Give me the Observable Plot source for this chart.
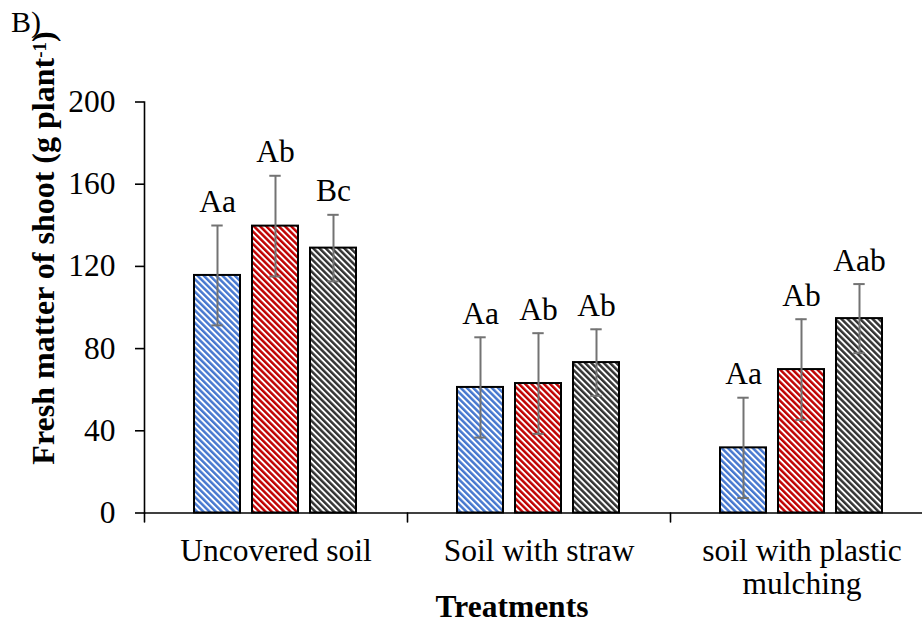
<!DOCTYPE html>
<html>
<head>
<meta charset="utf-8">
<script src="https://cdn.jsdelivr.net/npm/d3@7"></script>
<script src="https://cdn.jsdelivr.net/npm/@observablehq/plot@0.6"></script>
<style>
  html, body { margin: 0; padding: 0; background: #fff; }
  #chart svg { display: block; }
</style>
</head>
<body>
<div id="chart"></div>
<script>
// Treatments (groups along the x axis) and their displayed tick labels
const treatments = ["Uncovered soil", "Soil with straw", "soil with plastic mulching"];
const tickLabels = ["Uncovered soil", "Soil with straw", "soil with plastic\nmulching"];

// Three series drawn side by side within each treatment
const seriesKeys = ["S1", "S2", "S3"];

// Mean fresh matter of shoot (g plant-1), one value per treatment
const meanS1 = [115.6, 61.1, 31.7];
const meanS2 = [139.6, 63.0, 69.8];
const meanS3 = [128.9, 73.2, 94.6];

// Standard deviations (error bars)
const sdS1 = [24.3, 24.4, 24.4];
const sdS2 = [24.5, 24.5, 24.5];
const sdS3 = [16.2, 16.2, 16.8];

// Significance letters
const letterS1 = ["Aa", "Aa", "Aa"];
const letterS2 = ["Ab", "Ab", "Ab"];
const letterS3 = ["Bc", "Ab", "Aab"];

const yTicks = [0, 40, 80, 120, 160, 200];

const means = [meanS1, meanS2, meanS3];
const sds = [sdS1, sdS2, sdS3];
const letters = [letterS1, letterS2, letterS3];

const rows = treatments.flatMap((t, i) =>
  seriesKeys.map((s, j) => ({
    treatment: t,
    series: s,
    mean: means[j][i],
    sd: sds[j][i],
    letter: letters[j][i]
  }))
);

const stripeColors = ["#4677cf", "#c00000", "#333333"];
const patternIds = seriesKeys.map((s) => `stripe-${s}`);

const font = "Liberation Serif";
const labelSize = 31.5;
const errColor = "#737373";

// plain line shape for the category boundary ticks
const lineShape = {
  draw(context, l) {
    context.moveTo(0, 0);
    context.lineTo(0, -l);
  }
};

const chart = Plot.plot({
  width: 922,
  height: 624,
  marginLeft: 143,
  marginRight: 0,
  marginTop: 101.5,
  marginBottom: 111.5,
  style: { fontFamily: font, fontSize: `${labelSize}px`, background: "#fff", color: "#000", overflow: "visible" },
  fx: { domain: treatments, range: [143, 933.5], padding: 0, axis: null, label: null },
  x: { domain: seriesKeys, paddingInner: 0.205, paddingOuter: 0.855, axis: null },
  y: { domain: [0, 200], axis: null },
  color: { type: "ordinal", domain: seriesKeys, range: patternIds.map((id) => `url(#${id})`) },
  marks: [
    Plot.barY(rows, {
      fx: "treatment", x: "series", y: "mean",
      fill: "series", stroke: "#000", strokeWidth: 2
    }),
    Plot.ruleX(rows, {
      fx: "treatment", x: "series",
      y1: (d) => d.mean - d.sd, y2: (d) => d.mean + d.sd,
      stroke: errColor, strokeWidth: 2
    }),
    Plot.tickY(rows, {
      fx: "treatment", x: "series", y: (d) => d.mean - d.sd,
      stroke: errColor, strokeWidth: 2, insetLeft: 17.3, insetRight: 17.3
    }),
    Plot.tickY(rows, {
      fx: "treatment", x: "series", y: (d) => d.mean + d.sd,
      stroke: errColor, strokeWidth: 2, insetLeft: 17.3, insetRight: 17.3
    }),
    Plot.text(rows, {
      fx: "treatment", x: "series", y: (d) => d.mean + d.sd,
      text: "letter", lineAnchor: "bottom", dy: -13.5,
      fontFamily: font, fontSize: labelSize, fill: "#000"
    }),
    // x axis line
    Plot.ruleY([0], { stroke: "#000", strokeWidth: 1.6 }),
    // boundary ticks between treatments
    Plot.vector(treatments, {
      fx: (d) => d, frameAnchor: "bottom-left",
      length: 9, rotate: 180, anchor: "start",
      shape: lineShape, stroke: "#000", strokeWidth: 1.6
    }),
    // treatment labels
    Plot.text(treatments, {
      fx: (d) => d, frameAnchor: "bottom",
      text: (d, i) => tickLabels[i],
      lineAnchor: "top", dy: 24.5, lineHeight: 1.05,
      fontFamily: font, fontSize: labelSize, fill: "#000"
    }),
    // y axis
    Plot.frame({ anchor: "left", facetAnchor: "left", stroke: "#000", strokeWidth: 1.6 }),
    Plot.axisY({
      ticks: yTicks, tickSize: 9, tickPadding: 20,
      fontFamily: font, fontSize: labelSize, label: null,
      stroke: "#000", strokeWidth: 1.6
    })
  ]
});

// stripe patterns for the bars
const svg = d3.select(chart);
const defs = svg.insert("defs", ":first-child");
const period = 4.4;
patternIds.forEach((id, i) => {
  const p = defs.append("pattern")
    .attr("id", id)
    .attr("patternUnits", "userSpaceOnUse")
    .attr("width", period)
    .attr("height", period)
    .attr("patternTransform", "rotate(-45)");
  p.append("rect").attr("width", period).attr("height", period).attr("fill", "#fff");
  p.append("rect").attr("width", period * 0.56).attr("height", period).attr("fill", stripeColors[i]);
});

// panel tag
svg.append("text")
  .attr("x", 11).attr("y", 32)
  .attr("text-anchor", "start")
  .attr("font-family", font).attr("font-size", 30).attr("fill", "#000")
  .text("B)");

// y axis title with superscript unit exponent
const yTitle = svg.append("text")
  .attr("transform", "translate(54,248) rotate(-90)")
  .attr("text-anchor", "middle")
  .attr("font-family", font).attr("font-size", 32)
  .attr("font-weight", "bold").attr("fill", "#000");
yTitle.append("tspan").text("Fresh matter of shoot (g plant");
yTitle.append("tspan").attr("baseline-shift", "8").attr("font-size", 19).text("-1");
yTitle.append("tspan").text(")");

// x axis title
svg.append("text")
  .attr("x", 512).attr("y", 617)
  .attr("text-anchor", "middle")
  .attr("font-family", font).attr("font-size", 31.5)
  .attr("font-weight", "bold").attr("fill", "#000")
  .text("Treatments");

document.getElementById("chart").append(chart);
</script>
</body>
</html>
